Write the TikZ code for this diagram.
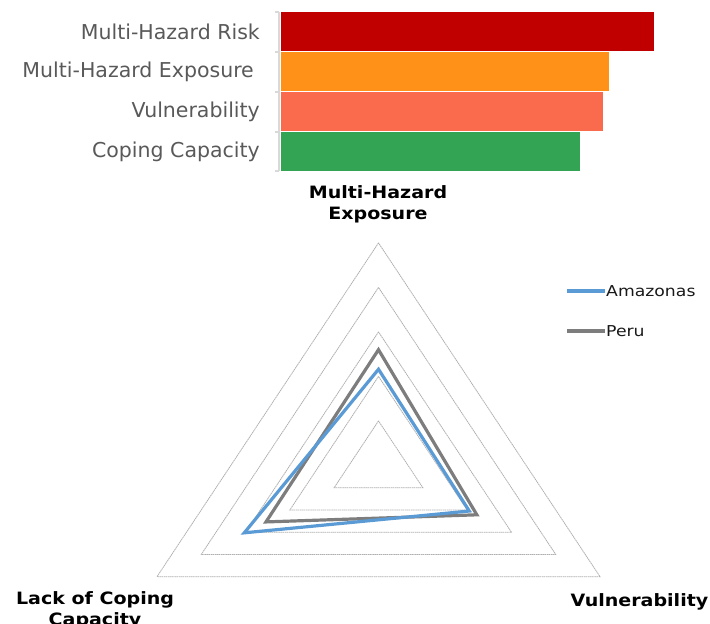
\documentclass[tikz,border=0pt]{standalone}
\usepackage{fontspec}
\setmainfont{DejaVu Sans}
\newfontfamily\legfont[FakeStretch=1.15]{DejaVu Sans}
\newfontfamily\axfont[FakeStretch=1.12]{DejaVu Sans}
\usetikzlibrary{positioning, calc}
\definecolor{riskred}{RGB}{192,0,0}
\definecolor{exporange}{RGB}{255,145,25}
\definecolor{vulnsalmon}{RGB}{250,106,76}
\definecolor{copegreen}{RGB}{51,164,84}
\definecolor{labgray}{RGB}{89,89,89}
\definecolor{axisgray}{RGB}{217,217,217}
\definecolor{gridgray}{RGB}{175,175,175}
\definecolor{amazblue}{RGB}{91,155,213}
\definecolor{perugray}{RGB}{125,125,125}
\tikzset{
    barbox/.style={anchor=west, minimum height=39pt, inner sep=0pt, outer sep=0pt},
    barlabel/.style={font=\fontsize{20.5}{23}\selectfont, text=labgray, inner sep=0pt},
    axisline/.style={axisgray, line width=1.5pt},
    ring/.style={gridgray, line width=0.8pt, dash pattern=on 1.5pt off 0.6pt},
    series/.style={line width=3.2pt},
    axislabel/.style={font=\axfont\bfseries\fontsize{17}{21}\selectfont, align=center, inner sep=0pt},
    legendlabel/.style={font=\legfont\fontsize{15}{18}\selectfont, text=black!90, inner sep=0pt},
}

\begin{document}
\begin{tikzpicture}[x=1pt, y=-1pt]
    \useasboundingbox (0,0) rectangle (710,624);

    % bar chart
    \node[barbox, fill=riskred, minimum width=373pt] (risk) at (281,31.5) {};
    \node[barbox, fill=exporange, minimum width=328pt] (exposure) at (281,71.5) {};
    \node[barbox, fill=vulnsalmon, minimum width=322pt] (vuln) at (281,111.5) {};
    \node[barbox, fill=copegreen, minimum width=299pt] (coping) at (281,151.5) {};

    \node[barlabel, left=21pt of risk] (risklab) {Multi-Hazard Risk};
    \node[barlabel, left=21pt of exposure] (exposurelab) {Multi-Hazard Exposure\kern6pt};
    \node[barlabel, left=21pt of vuln] (vulnlab) {Vulnerability};
    \node[barlabel, left=21pt of coping] (copinglab) {Coping Capacity};

    \draw[axisline] ($(risk.north west)+(-2,0)$) -- ($(coping.south west)+(-2,0)$);
    \foreach \b in {risk, exposure, vuln, coping}
        \draw[axisline] ($(\b.north west)+(-6,0)$) -- ($(\b.north west)+(-2,0)$);
    \draw[axisline] ($(coping.south west)+(-6,0)$) -- ($(coping.south west)+(-2,0)$);

    % radar chart
    \begin{scope}[shift={(378.5,465.4)}, x={(44.3pt,0pt)}, y={(0pt,-22.25pt)}]
        \coordinate (ctr) at (0,0);
        \foreach \r in {1,...,5}
            \draw[ring] (0,-2*\r) -- (-\r,\r) -- (\r,\r) -- cycle;
        \draw[series, perugray] (0,-5.2) -- (2.22,2.22) -- (-2.54,2.54) -- cycle;
        \draw[series, amazblue] (0,-4.32) -- (2.05,2.05) -- (-3.03,3.03) -- cycle;
    \end{scope}

    \node[axislabel] (explab) at (378,204) {Multi-Hazard\\Exposure};
    \node[axislabel] (lacklab) at (95,610) {Lack of Coping\\Capacity};
    \node[axislabel] (vulnaxlab) at (639.5,602) {Vulnerability};

    % legend
    \coordinate (amazA) at (567,291);
    \coordinate (amazB) at (605,291);
    \coordinate (peruA) at (567,331);
    \coordinate (peruB) at (605,331);
    \node[legendlabel, right=1pt of amazB] (amazlab) {Amazonas};
    \node[legendlabel, right=1pt of peruB] (perulab) {Peru};
    \draw[series, amazblue] (amazA) -- (amazB);
    \draw[series, perugray] (peruA) -- (peruB);
\end{tikzpicture}
\end{document}
